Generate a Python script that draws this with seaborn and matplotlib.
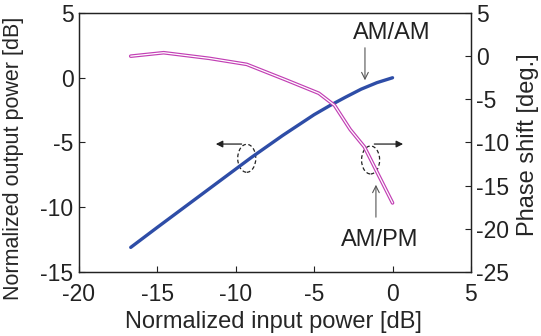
import matplotlib
matplotlib.use("Agg")
import matplotlib.pyplot as plt
import seaborn as sns
import pandas as pd
from matplotlib.patches import Ellipse

sns.set_theme(style="white")
plt.rcParams['font.family'] = ['Liberation Sans', 'DejaVu Sans']
plt.rcParams['axes.unicode_minus'] = False

# AM/AM data (left axis)
am_in = [-16.7, -15, -13, -11, -9, -7, -5, -4, -3, -2, -1, 0]
am_out = [-13.1, -11.55, -9.75, -7.95, -6.15, -4.45, -2.85, -2.15, -1.5, -0.88, -0.38, 0]
# AM/PM data (right axis)
pm_in = [-16.7, -14.6, -11.7, -9.3, -6.8, -4.7, -3.7, -2.7, -1.8, 0]
pm_phase = [0.0, 0.4, -0.25, -0.95, -2.75, -4.3, -5.7, -8.5, -10.5, -17.0]

xticks = [-20, -15, -10, -5, 0, 5]
yticks_left = [-15, -10, -5, 0, 5]
yticks_right = [-25, -20, -15, -10, -5, 0, 5]

df_am = pd.DataFrame({"x": am_in, "y": am_out})
df_pm = pd.DataFrame({"x": pm_in, "y": pm_phase})

fig = plt.figure(figsize=(5.41, 3.36), dpi=100)
ax = fig.add_axes([0.146, 0.1905, 0.7245, 0.7708])
ax2 = ax.twinx()

sns.lineplot(data=df_am, x="x", y="y", ax=ax, color="#2E4DA7", linewidth=2.4, sort=False)
sns.lineplot(data=df_pm, x="x", y="y", ax=ax2, color="#C23FB4", linewidth=2.6, sort=False)
sns.lineplot(data=df_pm, x="x", y="y", ax=ax2, color="white", linewidth=0.9, sort=False)

ax.set_xlim(-20, 5)
ax.set_ylim(-15, 5)
ax2.set_ylim(-25, 5)
ax.set_xticks(xticks)
ax.set_yticks(yticks_left)
ax2.set_yticks(yticks_right)

tfs = 16.5
ax.set_xlabel("Normalized input power [dB]", fontsize=17, va="center")
ax.xaxis.set_label_coords(0.495, -0.193)
ax.set_ylabel("Normalized output power [dB]", fontsize=15.5, va="center")
ax.yaxis.set_label_coords(-0.168, 0.44)
ax2.set_ylabel("Phase shift [deg.]", fontsize=17, va="center")
ax2.yaxis.set_label_coords(1.145, 0.49)

for a in (ax, ax2):
    a.tick_params(direction="in", length=4, width=0.8, labelsize=tfs, pad=4, colors="#222222")
    for s in a.spines.values():
        s.set_color("#222222")
        s.set_linewidth(0.9)
ax.tick_params(axis="x", pad=8)
ax.yaxis.set_ticks_position("left")
ax.xaxis.set_ticks_position("bottom")
ax2.yaxis.set_ticks_position("right")

# annotations
fs = 17
ax.annotate("", xy=(-1.76, -0.41), xytext=(-1.76, 2.53),
            arrowprops=dict(arrowstyle="->", color="#555555", lw=0.8))
ax.text(-0.05, 3.46, "AM/AM", fontsize=fs, ha="center", va="center", color="#222222")
ax.annotate("", xy=(-1.06, -8.05), xytext=(-1.06, -10.98),
            arrowprops=dict(arrowstyle="->", color="#555555", lw=0.8))
ax.text(-0.8, -12.53, "AM/PM", fontsize=fs, ha="center", va="center", color="#222222")

ax.add_patch(Ellipse((-9.3, -6.22), 1.15, 2.16, fill=False, ls=(0, (3, 2)), lw=0.9, ec="#222222"))
ax.add_patch(Ellipse((-1.40, -6.35), 1.15, 2.16, fill=False, ls=(0, (3, 2)), lw=0.9, ec="#222222"))
ax.annotate("", xy=(-11.45, -5.12), xytext=(-9.45, -5.12),
            arrowprops=dict(arrowstyle="-|>", color="#222222", lw=0.9, mutation_scale=10))
ax.annotate("", xy=(0.85, -5.12), xytext=(-1.34, -5.12),
            arrowprops=dict(arrowstyle="-|>", color="#222222", lw=0.9, mutation_scale=10))

fig.savefig("out.png", dpi=100)
